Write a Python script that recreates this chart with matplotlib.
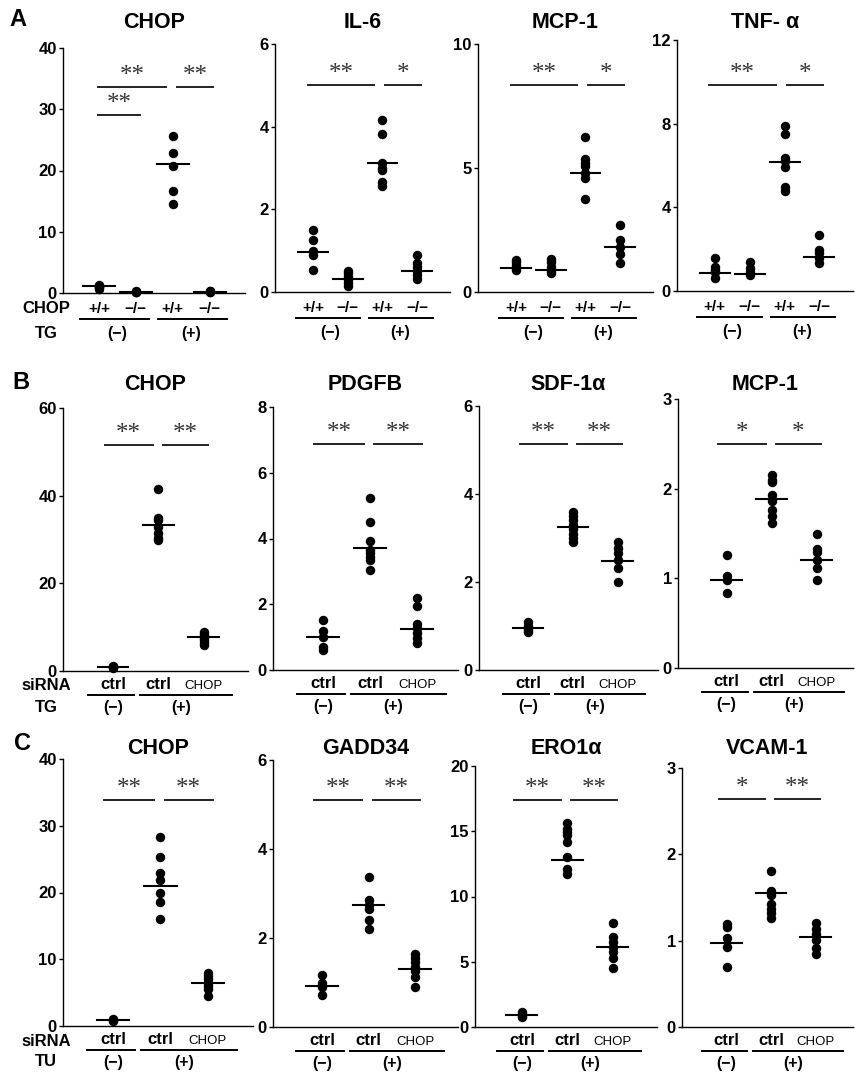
import matplotlib
matplotlib.use('Agg')
import matplotlib.pyplot as plt
from matplotlib.transforms import ScaledTranslation

plt.rcParams['font.family'] = ['Liberation Sans', 'DejaVu Sans']

# ---- data ----
# A: CHOP+/+ / CHOP-/- cells, TG (-) and (+)
a_groups = ['+/+', '\u2212/\u2212', '+/+', '\u2212/\u2212']
a_chop = [[1.3, 1.1, 1.0, 0.9, 0.7], [0.3, 0.2, 0.15, 0.1],
          [25.6, 22.8, 20.7, 16.6, 14.5], [0.3, 0.25, 0.2, 0.15]]
a_chop_mean = [1.1, 0.2, 21.1, 0.2]
a_il6 = [[1.5, 1.25, 0.98, 0.9, 0.53], [0.52, 0.45, 0.38, 0.3, 0.22, 0.14],
         [4.15, 3.82, 3.12, 3.0, 2.96, 2.67, 2.57], [0.9, 0.7, 0.6, 0.5, 0.42, 0.32]]
a_il6_mean = [0.96, 0.31, 3.12, 0.52]
a_mcp1 = [[1.3, 1.2, 1.1, 0.95, 0.88], [1.35, 1.2, 1.0, 0.85, 0.77],
          [6.24, 5.35, 5.19, 5.09, 4.78, 4.58, 3.73], [2.72, 2.09, 1.82, 1.55, 1.17]]
a_mcp1_mean = [0.97, 0.9, 4.81, 1.82]
a_tnf = [[1.6, 1.16, 1.0, 0.92, 0.6], [1.4, 1.1, 0.9, 0.75],
         [7.89, 7.5, 6.34, 6.23, 5.94, 4.99, 4.8], [2.68, 1.96, 1.83, 1.56, 1.32]]
a_tnf_mean = [0.84, 0.81, 6.18, 1.64]

# B: siRNA ctrl / CHOP, TG (-) and (+)
bc_groups = ['ctrl', 'ctrl', 'CHOP']
b_chop = [[1.2, 1.0, 0.8, 0.7], [41.5, 35.0, 34.5, 32.9, 31.4, 30.3, 29.9],
          [9.0, 8.5, 8.0, 7.5, 7.0, 6.5, 6.0]]
b_chop_mean = [0.9, 33.2, 7.8]
b_pdgfb = [[1.52, 1.2, 1.0, 0.7, 0.6], [5.23, 4.5, 3.93, 3.65, 3.55, 3.43, 3.35, 3.05],
           [2.18, 1.95, 1.4, 1.27, 1.12, 0.96, 0.83]]
b_pdgfb_mean = [1.0, 3.7, 1.24]
b_sdf1a = [[1.08, 1.0, 0.95, 0.9, 0.87], [3.6, 3.5, 3.4, 3.3, 3.2, 3.1, 3.0, 2.92],
           [2.9, 2.77, 2.65, 2.5, 2.31, 1.99]]
b_sdf1a_mean = [0.95, 3.26, 2.48]
b_mcp1 = [[1.26, 1.03, 0.98, 0.84], [2.15, 2.1, 2.07, 1.93, 1.86, 1.76, 1.69, 1.62],
          [1.49, 1.33, 1.29, 1.21, 1.11, 0.98]]
b_mcp1_mean = [0.98, 1.88, 1.21]

# C: siRNA ctrl / CHOP, TU (-) and (+)
c_chop = [[1.0, 0.9, 0.8], [28.25, 25.25, 22.9, 21.9, 19.9, 18.65, 16.05],
          [8.0, 7.5, 7.0, 6.5, 6.0, 5.5, 4.5]]
c_chop_mean = [0.9, 20.9, 6.5]
c_gadd34 = [[1.17, 1.0, 0.9, 0.72], [3.38, 2.85, 2.74, 2.66, 2.4, 2.21],
            [1.65, 1.55, 1.45, 1.35, 1.25, 1.12, 0.89]]
c_gadd34_mean = [0.92, 2.74, 1.31]
c_ero1a = [[1.15, 1.0, 0.85, 0.77], [15.65, 15.2, 14.95, 14.7, 14.2, 13.0, 12.1, 11.75],
           [8.0, 6.9, 6.5, 6.1, 5.75, 5.3, 4.5]]
c_ero1a_mean = [0.9, 12.8, 6.1]
c_vcam1 = [[1.19, 1.16, 1.03, 0.93, 0.70], [1.81, 1.57, 1.53, 1.43, 1.37, 1.32, 1.26],
           [1.2, 1.14, 1.08, 1.01, 0.91, 0.85]]
c_vcam1_mean = [0.97, 1.55, 1.04]

titles = ['CHOP', 'IL-6', 'MCP-1', 'TNF- \u03b1',
          'CHOP', 'PDGFB', 'SDF-1\u03b1', 'MCP-1',
          'CHOP', 'GADD34', 'ERO1\u03b1', 'VCAM-1']
y_max = [40, 6, 10, 12, 60, 8, 6, 3, 40, 6, 20, 3]
y_step = [10, 2, 5, 4, 20, 2, 2, 1, 10, 2, 5, 1]
sig_height = [33.7, 5.0, 8.33, 9.85, 51.6, 6.87, 5.14, 2.5, 33.8, 5.1, 17.4, 2.64]
sig_left = ['**', '**', '**', '**', '**', '**', '**', '*', '**', '**', '**', '*']
sig_right = ['**', '*', '*', '*', '**', '**', '**', '*', '**', '**', '**', '**']

series = [a_chop, a_il6, a_mcp1, a_tnf, b_chop, b_pdgfb, b_sdf1a, b_mcp1,
          c_chop, c_gadd34, c_ero1a, c_vcam1]
means = [a_chop_mean, a_il6_mean, a_mcp1_mean, a_tnf_mean,
         b_chop_mean, b_pdgfb_mean, b_sdf1a_mean, b_mcp1_mean,
         c_chop_mean, c_gadd34_mean, c_ero1a_mean, c_vcam1_mean]

# ---- layout (pixels: left, right, top, bottom) and x limits ----
W, H = 855, 1073
boxes = [(63, 245, 48, 293), (275, 450, 44, 292), (478, 653, 44, 292), (677, 853, 40, 291),
         (63, 248, 408, 671), (273, 458, 407, 670), (479, 658, 406, 670), (678, 853, 399, 668),
         (63, 253, 759, 1026), (273, 458, 760, 1027), (475, 657, 766, 1027), (682, 853, 768, 1027)]
xlims = [(0.03, 4.95), (-0.1, 4.95), (-0.1, 4.95), (-0.08, 4.96),
         (-0.1, 3.97), (-0.06, 3.87), (-0.09, 3.9), (-0.08, 3.81),
         (-0.05, 3.95), (-0.05, 3.92), (-0.03, 3.97), (0.0, 3.84)]

fig = plt.figure(figsize=(W / 100, H / 100), dpi=100)


def below(ax, dy):
    # x in data, y = axis line shifted down dy pixels
    return ax.get_xaxis_transform() + ScaledTranslation(0, -dy / 100, fig.dpi_scale_trans)


def stars(ax, x, y, lab):
    ax.annotate(lab, xy=(x, y), xytext=(0, 0), textcoords='offset pixels',
                ha='center', va='bottom', fontsize=18, family='Liberation Serif',
                color='#333333')


for i in range(12):
    left, right, top, bottom = boxes[i]
    ax = fig.add_axes([left / W, 1 - bottom / H, (right - left) / W, (bottom - top) / H])
    row_a = i < 4
    vals = series[i]
    n = len(vals)
    xs = list(range(1, n + 1))
    half = 0.43 if row_a else 0.34

    for x, v, m in zip(xs, vals, means[i]):
        ax.plot([x] * len(v), v, 'o', color='black', ms=5.8, clip_on=False, zorder=3)
        ax.plot([x - half, x + half], [m, m], color='black', lw=1.5, clip_on=False, zorder=3)

    ax.set_xlim(*xlims[i])
    ax.set_ylim(0, y_max[i])
    ax.set_yticks(range(0, y_max[i] + 1, y_step[i]))
    ax.set_xticks([])
    for s in ['top', 'right']:
        ax.spines[s].set_visible(False)
    for s in ['left', 'bottom']:
        ax.spines[s].set_linewidth(1.0)
    ax.tick_params(axis='y', length=3, width=1.0, pad=1.5, labelsize=12)
    for lab in ax.get_yticklabels():
        lab.set_fontweight('bold')

    # significance bars
    h = sig_height[i]
    if row_a:
        spans = [(0.85, 2.75, sig_left[i]), (3.08, 4.1, sig_right[i])]
        if i == 0:
            spans = [(0.97, 2.81, sig_left[i]), (3.11, 4.08, sig_right[i])]
    else:
        spans = [(0.82, 1.87, sig_left[i]), (2.09, 3.1, sig_right[i])]
    for x0, x1, lab in spans:
        ax.plot([x0, x1], [h, h], color='#222222', lw=1.4, clip_on=False)
        stars(ax, (x0 + x1) / 2, h, lab)
    if i == 0:
        ax.plot([0.97, 2.11], [29.1, 29.1], color='#222222', lw=1.4)
        stars(ax, 1.54, 29.1, '**')

    # group labels under the axis
    if row_a:
        for x, g in zip(xs, a_groups):
            ax.text(x, 0, g, transform=below(ax, 20), ha='center', va='baseline',
                    fontsize=11, fontweight='bold')
        for x0, x1 in [(0.5, 2.35), (2.6, 4.45)]:
            ax.plot([x0, x1], [0, 0], color='black', lw=1.4, transform=below(ax, 26),
                    clip_on=False)
        ax.text(1.5, 0, '(\u2212)', transform=below(ax, 45), ha='center', va='baseline',
                fontsize=11.5, fontweight='bold')
        ax.text(3.5, 0, '(+)', transform=below(ax, 45), ha='center', va='baseline',
                fontsize=11.5, fontweight='bold')
    else:
        for x, g in zip(xs, bc_groups):
            if g == 'ctrl':
                ax.text(x, 0, g, transform=below(ax, 18), ha='center', va='baseline',
                        fontsize=12, fontweight='bold')
            else:
                ax.text(x, 0, g, transform=below(ax, 18), ha='center', va='baseline',
                        fontsize=9.5)
        for x0, x1 in [(0.45, 1.47), (1.6, 3.62)]:
            ax.plot([x0, x1], [0, 0], color='black', lw=1.4, transform=below(ax, 24),
                    clip_on=False)
        ax.text(1, 0, '(\u2212)', transform=below(ax, 41), ha='center', va='baseline',
                fontsize=11.5, fontweight='bold')
        ax.text(2.5, 0, '(+)', transform=below(ax, 41), ha='center', va='baseline',
                fontsize=11.5, fontweight='bold')

    # panel title
    fig.text((left + right) / 2 / W, 1 - [22, 385, 748][i // 4] / H, titles[i],
             ha='center', va='center', fontsize=15.5, fontweight='bold')

# row labels and panel letters
row_labels = [('CHOP', 313), ('TG', 338), ('siRNA', 690), ('TG', 712), ('siRNA', 1046), ('TU', 1066)]
for txt, yb in row_labels:
    fig.text(46 / W, 1 - yb / H, txt, ha='center', va='baseline', fontsize=12, fontweight='bold')
for letter, x, y in [('A', 18, 20), ('B', 21, 383), ('C', 22, 743)]:
    fig.text(x / W, 1 - y / H, letter, ha='center', va='center', fontsize=17, fontweight='bold')

fig.savefig('out.png', dpi=100)
